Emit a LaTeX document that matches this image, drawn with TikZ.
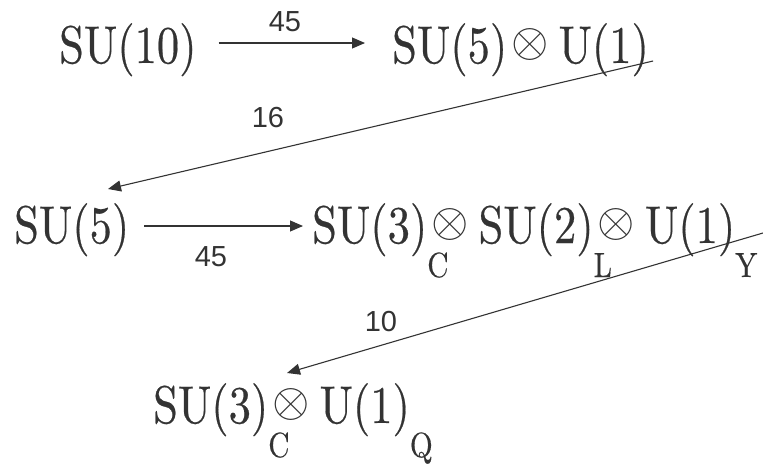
\documentclass[tikz,border=0pt]{standalone}
\usepackage{fontspec}
\usepackage{graphicx}
\newfontfamily\grpfont{lmroman10-regular.otf}[FakeStretch=0.84, FakeBold=0.4]
\newfontfamily\numfont{Liberation Sans}
\usetikzlibrary{arrows.meta, positioning, calc}
\definecolor{ink}{HTML}{333333}

% subscript hung low under the group, and the product sign
\newcommand{\gsub}[1]{\rlap{\raisebox{-34pt}{\fontsize{35}{35}\selectfont #1}}}
\newcommand{\otm}{\hspace{4pt}\raisebox{7pt}{\scalebox{4.8}{\fontsize{10}{12}\selectfont$\otimes$}}\hspace{10pt}}

\begin{document}
\begin{tikzpicture}[x=1pt, y=-1pt,
  grp/.style={font=\grpfont\fontsize{53}{60}\selectfont, text=ink, inner sep=0pt, anchor=base west},
  num/.style={font=\numfont\fontsize{29}{32}\selectfont, text=ink, inner sep=0pt},
  conn/.style={draw=ink, line width=1.1pt, -{Triangle[length=13pt, width=11pt]}}]
  \useasboundingbox (0,0) rectangle (763,466);

  % Groups
  \node[grp] (g10) at (59,63) {SU(10)};
  \node[grp] (g51) at (392,63) {SU(5)\otm U(1)};
  \node[grp] (g5) at (14,243) {SU(5)};
  \node[grp] (g321) at (312,243) {SU(3)\gsub{C}\otm SU(2)\gsub{L}\otm U(1)\gsub{Y}};
  \node[grp] (g31) at (153,423) {SU(3)\gsub{C}\otm U(1)\gsub{Q}};

  % Breakings
  \draw[conn] ($(g10.base east)+(22,-20)$) -- ($(g51.base west)+(-27,-20)$);
  \draw[conn] ($(g51.base east)+(4,-2)$) -- ($(g5.base west)+(94,-54)$);
  \draw[conn] ($(g5.base east)+(15,-17)$) -- ($(g321.base west)+(-9,-17)$);
  \coordinate (edge) at (763,233);
  \draw[conn] (edge) -- ($(g31.base west)+(134,-50)$);

  % Numbers of generators
  \node[num] (n1) at (285,22) {45};
  \node[num] (n2) at (268,118) {16};
  \node[num] (n3) at (211,257) {45};
  \node[num] (n4) at (381,322) {10};
\end{tikzpicture}
\end{document}
